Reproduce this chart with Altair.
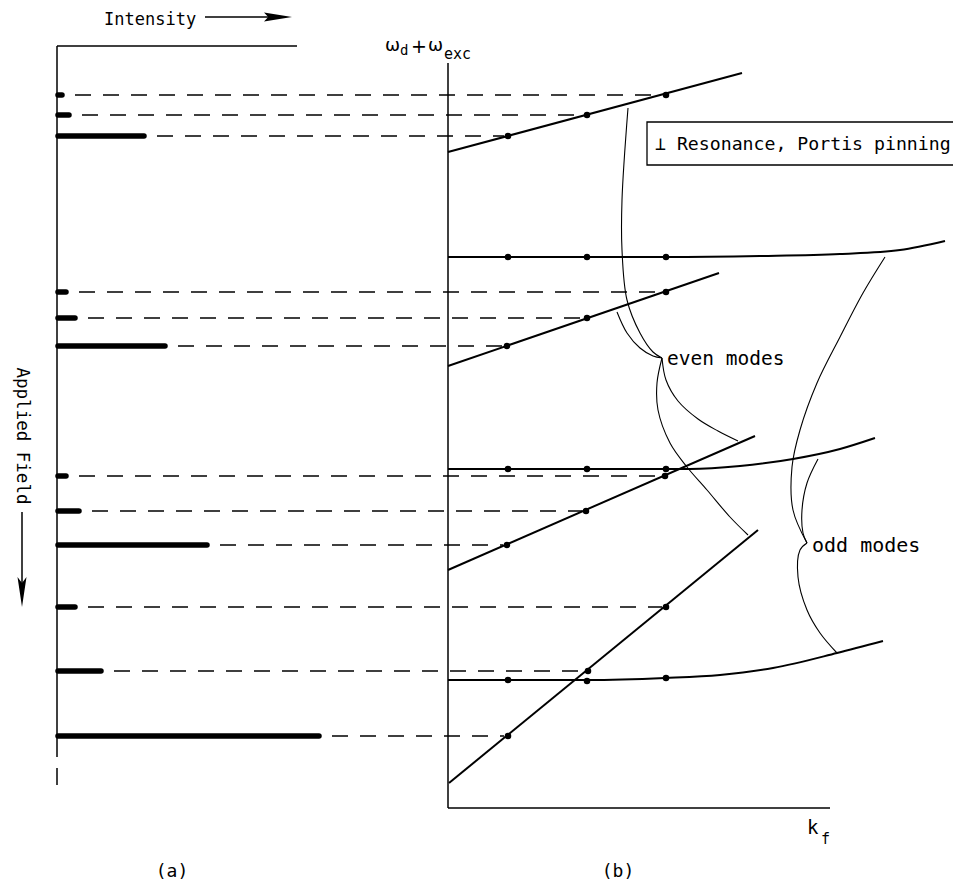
import altair as alt
import pandas as pd

# ---------------- (a) absorption spectrum ----------------
# field level (vertical position) of each spin-wave line and its intensity
field_levels = [95, 115, 136, 292, 318, 346, 476, 511, 545, 607, 671, 736]
intensities = [4, 11, 86, 8, 17, 107, 8, 21, 149, 17, 43, 261]
# k_f position of the dot that each line is projected to in (b)
line_k = [666, 587, 508, 666, 587, 507, 665, 586, 507, 666, 588, 508]
bar_origin = 58

# ---------------- (b) dispersion diagram ----------------
k_points = [508, 587, 666]
# straight (field-dependent) branches: start and end points
slope_x0 = [448, 448, 448, 449]
slope_y0 = [152, 366, 570, 783]
slope_x1 = [742, 719, 755, 758]
slope_y1 = [73, 273, 436, 530]
# nearly flat branches
flat1_x = [448, 508, 587, 666, 760, 840, 900, 945]
flat1_y = [257, 257, 257, 257, 256, 254, 250, 241]
flat2_x = [448, 509, 588, 665, 690, 740, 793, 840, 875]
flat2_y = [469, 469, 469, 469, 469, 466, 459, 449, 438]
flat3_x = [448, 508, 588, 665, 720, 773, 837, 883]
flat3_y = [680, 680, 680, 678, 675, 668, 653, 641]
flat_dot_y = [[257, 257, 257], [469, 469, 469], [680, 681, 678]]

# bracket curves ("even modes", "odd modes")
bracket_curves = {
    "A": ([628, 622, 622, 627, 640, 653, 662], [108, 200, 250, 300, 333, 352, 358]),
    "B": ([617, 627, 640, 653, 662], [312, 333, 348, 356, 358]),
    "C": ([662, 666, 678, 698, 718, 738], [358, 380, 401, 419, 431, 441]),
    "D": ([662, 657, 658, 670, 687, 707, 730, 748], [358, 383, 410, 443, 467, 490, 517, 535]),
    "E": ([885, 863, 840, 817, 800, 792, 793, 807], [257, 293, 337, 383, 430, 467, 510, 543]),
    "F": ([818, 807, 802, 803, 807], [459, 483, 510, 533, 543]),
    "G": ([807, 800, 798, 807, 820, 837], [543, 550, 577, 610, 633, 653]),
}

X = lambda f="x": alt.X(f"{f}:Q", scale=alt.Scale(domain=[8, 953], nice=False, zero=False), axis=None)
Y = lambda f="y": alt.Y(f"{f}:Q", scale=alt.Scale(domain=[8, 882], nice=False, zero=False, reverse=True), axis=None)


def seg_layer(rows, **kw):
    df = pd.DataFrame(rows, columns=["x", "y", "x2", "y2"])
    return alt.Chart(df).mark_rule(color="black", **kw).encode(
        x=X(), y=Y(), x2="x2:Q", y2="y2:Q")


# axes and arrow shafts
axes = seg_layer([
    (57, 46, 57, 757), (57, 768, 57, 785), (57, 46, 297, 46),
    (448, 63, 448, 808), (448, 808, 830, 808),
    (205, 17, 272, 17), (22, 512, 22, 590),
], strokeWidth=1.5)

bars = seg_layer([(bar_origin, lv, bar_origin + it, lv) for lv, it in zip(field_levels, intensities)],
                 strokeWidth=5.5, strokeCap="round")

dashes = seg_layer([(bar_origin + it + 13, lv, k - 4, lv)
                    for lv, it, k in zip(field_levels, intensities, line_k)],
                   strokeWidth=1.4, strokeDash=[16, 12])

slopes = seg_layer(list(zip(slope_x0, slope_y0, slope_x1, slope_y1)), strokeWidth=2)

flat_rows = []
for name, xs, ys in [("f1", flat1_x, flat1_y), ("f2", flat2_x, flat2_y), ("f3", flat3_x, flat3_y)]:
    for i, (a, b) in enumerate(zip(xs, ys)):
        flat_rows.append({"c": name, "o": i, "x": a, "y": b})
flats = alt.Chart(pd.DataFrame(flat_rows)).mark_line(
    color="black", strokeWidth=2, interpolate="monotone").encode(
    x=X(), y=Y(), detail="c:N", order="o:Q")

br_rows = []
for name, (xs, ys) in bracket_curves.items():
    for i, (a, b) in enumerate(zip(xs, ys)):
        br_rows.append({"c": name, "o": i, "x": a, "y": b})
brackets = alt.Chart(pd.DataFrame(br_rows)).mark_line(
    color="black", strokeWidth=1.1, interpolate="catmull-rom").encode(
    x=X(), y=Y(), detail="c:N", order="o:Q")

dot_rows = [{"x": k, "y": lv} for lv, k in zip(field_levels, line_k)]
for ys in flat_dot_y:
    for k, yv in zip(k_points, ys):
        dot_rows.append({"x": k, "y": yv})
dots = alt.Chart(pd.DataFrame(dot_rows)).mark_point(
    filled=True, color="black", size=42, opacity=1).encode(x=X(), y=Y())

# arrowheads
arrow_r = alt.Chart(pd.DataFrame({"x": [278], "y": [17]})).mark_point(
    shape="M-1,-0.32L1,0L-1,0.32L-0.7,0Z", filled=True, color="black", size=784, opacity=1
).encode(x=X(), y=Y())
arrow_d = alt.Chart(pd.DataFrame({"x": [22], "y": [592]})).mark_point(
    shape="M-0.3,-1L0,1L0.3,-1L0,-0.6Z", filled=True, color="black", size=900, opacity=1
).encode(x=X(), y=Y())

legend_box = alt.Chart(pd.DataFrame({"x": [647], "x2": [990], "y": [122], "y2": [165]})).mark_rect(
    fillOpacity=0, stroke="black", strokeWidth=1.3).encode(x=X(), x2="x2:Q", y=Y(), y2="y2:Q")


def text_layer(rows, **kw):
    df = pd.DataFrame(rows, columns=["t", "x", "y", "s"])
    return alt.Chart(df).mark_text(color="black", **kw).encode(
        x=X(), y=Y(), text="t:N", size=alt.Size("s:Q", scale=None))


mono = "DejaVu Sans Mono"
texts_left = text_layer([
    ("Intensity", 104, 25, 17),
    ("⊥ Resonance, Portis pinning", 655, 150, 18.2),
    ("even modes", 667, 365, 19.5),
    ("odd modes", 812, 552, 20),
    ("k", 807, 834, 19),
    ("f", 821, 844, 15),
], align="left", baseline="alphabetic", font=mono)

panel_labels = text_layer([
    ("(a)", 172, 877, 18),
    ("(b)", 618, 877, 18),
], align="center", baseline="alphabetic", font=mono)

omega = text_layer([
    ("ω", 385, 51, 18),
    ("+", 411, 53, 19),
    ("ω", 428, 51, 18),
], align="left", baseline="alphabetic", font="DejaVu Sans")
omega_sub = text_layer([
    ("d", 400, 55, 14),
    ("exc", 444, 59, 15),
], align="left", baseline="alphabetic", font=mono)

applied = alt.Chart(pd.DataFrame({"t": ["Applied Field"], "x": [22], "y": [436]})).mark_text(
    color="black", font=mono, fontSize=17.5, angle=90, align="center", baseline="middle"
).encode(x=X(), y=Y(), text="t:N")

chart = alt.layer(
    axes, dashes, bars, slopes, flats, brackets, dots, arrow_r, arrow_d, legend_box,
    texts_left, panel_labels, omega, omega_sub, applied
).properties(
    width=945, height=874, padding=0, background="white",
    autosize=alt.AutoSizeParams(type="none")
).configure_view(stroke=None)

chart.save("out.html", embed_options={"renderer": "svg", "actions": False})
